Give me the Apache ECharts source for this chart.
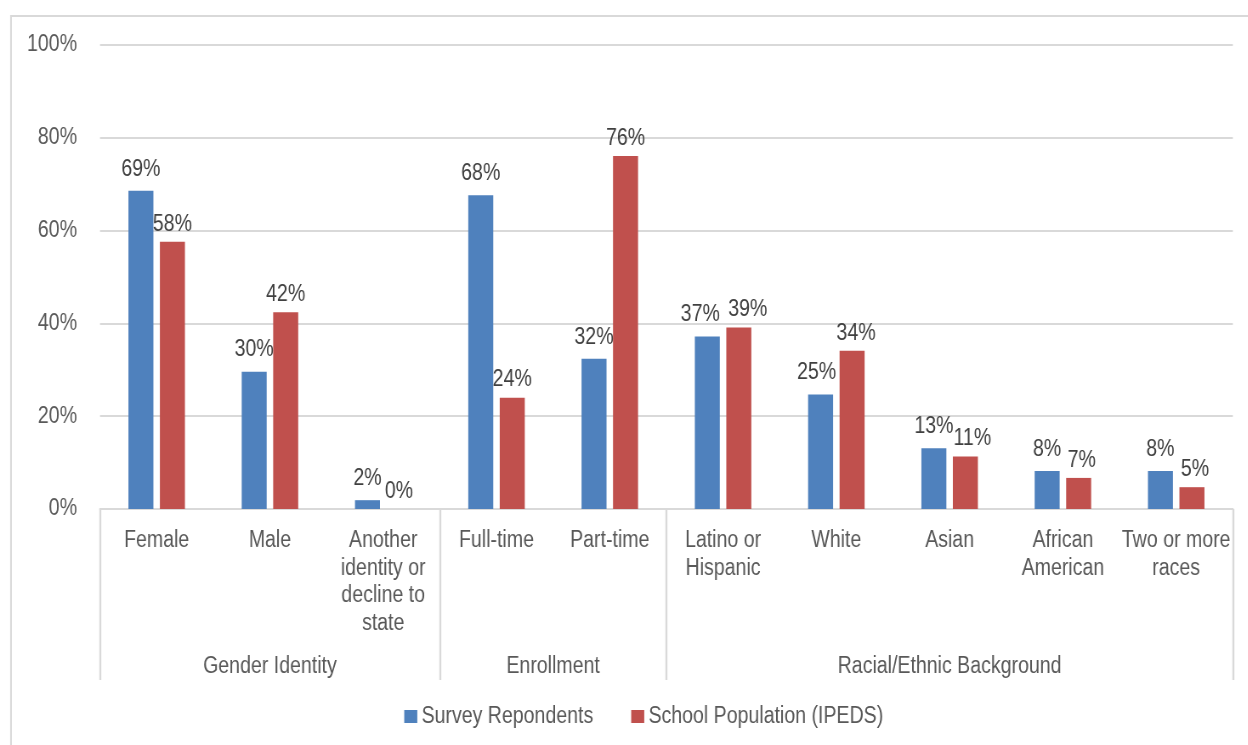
<!DOCTYPE html>
<html>
<head>
<meta charset="utf-8">
<script src="https://cdn.jsdelivr.net/npm/echarts@6/dist/echarts.min.js"></script>
<style>
html,body{margin:0;padding:0;background:#fff;overflow:hidden;}
#wrap{width:1248px;height:745px;overflow:hidden;position:relative;}
#chart{width:1468px;height:745px;transform:scaleX(0.85);transform-origin:0 0;}
</style>
</head>
<body>
<div id="wrap"><div id="chart"></div></div>
<script>
// ---- data ----
const categories = ['Female', 'Male', 'Another\nidentity or\ndecline to\nstate', 'Full-time', 'Part-time',
  'Latino or\nHispanic', 'White', 'Asian', 'African\nAmerican', 'Two or more\nraces'];
const groupNames = ['Gender Identity', 'Enrollment', 'Racial/Ethnic Background'];
const groupSizes = [3, 2, 5];
const seriesNames = ['Survey Repondents', 'School Population (IPEDS)'];
const surveyValues = [68.6, 29.6, 1.9, 67.6, 32.4, 37.2, 24.7, 13.1, 8.2, 8.2];
const ipedsValues = [57.6, 42.4, 0, 24.0, 76.1, 39.1, 34.1, 11.3, 6.7, 4.7];
const yTicks = [0, 20, 40, 60, 80, 100];

// ---- build group axis (half-category resolution, boundaryGap false) ----
const total = groupSizes.reduce((a, b) => a + b, 0);
const slots = total * 2 + 1;
const groupData = new Array(slots).fill('');
const boundaryIdx = [0];
let acc = 0;
groupSizes.forEach((s, i) => {
  groupData[acc * 2 + s] = groupNames[i];
  acc += s;
  boundaryIdx.push(acc * 2);
});

const K = 0.85; // horizontal compression of the whole drawing (narrow lettering)
const X = v => v / K;
const FONT = "'Liberation Sans', Arial, sans-serif";
const FS = 23;
const chart = echarts.init(document.getElementById('chart'));
const fmt = p => Math.round(p.value) + '%';

// label nudges (screen px) that keep neighbouring labels apart, as in the original
const nudgeSurvey = { 5: -7, 6: -4 };
const nudgeIpeds = { 5: 9, 6: 4, 7: 7, 8: 3, 9: 3 };
const withNudge = (vals, nudge) => vals.map((v, i) =>
  nudge[i] ? { value: v, label: { offset: [X(nudge[i]), 0] } } : v);

chart.setOption({
  animation: false,
  backgroundColor: '#fff',
  textStyle: { fontFamily: FONT },
  graphic: [{
    type: 'rect',
    shape: { x: X(11), y: 16, width: X(1300), height: 760 },
    style: { fill: 'none', stroke: '#d9d9d9', lineWidth: 2 },
    silent: true
  }],
  grid: { left: X(100), right: X(15), top: 45, bottom: 236, containLabel: false },
  legend: {
    bottom: 12,
    left: X(400),
    itemWidth: X(13),
    itemHeight: 13,
    itemGap: X(38),
    icon: 'rect',
    textStyle: { fontFamily: FONT, fontSize: FS, color: '#595959' },
    data: seriesNames
  },
  xAxis: [{
    type: 'category',
    data: categories,
    position: 'bottom',
    axisLine: { show: true, lineStyle: { color: '#d9d9d9', width: 2 } },
    axisTick: { show: false },
    axisLabel: {
      interval: 0,
      margin: 18,
      fontFamily: FONT,
      fontSize: FS,
      lineHeight: 27.5,
      color: '#595959',
      align: 'center'
    }
  }, {
    type: 'category',
    data: groupData,
    position: 'bottom',
    boundaryGap: false,
    axisLine: { show: false },
    axisTick: {
      show: true,
      length: 171,
      interval: (idx) => boundaryIdx.indexOf(idx) >= 0,
      lineStyle: { color: '#d9d9d9', width: X(2) }
    },
    axisLabel: {
      interval: 0,
      margin: 146,
      fontFamily: FONT,
      fontSize: FS,
      color: '#595959'
    }
  }],
  yAxis: {
    type: 'value',
    min: yTicks[0],
    max: yTicks[yTicks.length - 1],
    interval: yTicks[1] - yTicks[0],
    axisLine: { show: false },
    axisTick: { show: false },
    splitLine: { lineStyle: { color: '#d9d9d9', width: 2 } },
    axisLabel: {
      margin: X(23),
      fontFamily: FONT,
      fontSize: FS,
      color: '#595959',
      formatter: '{value}%'
    }
  },
  series: [{
    name: seriesNames[0],
    type: 'bar',
    data: withNudge(surveyValues, nudgeSurvey),
    barWidth: X(25),
    barGap: '26%',
    itemStyle: { color: '#4F81BD' },
    label: { show: true, position: 'top', distance: 10, formatter: fmt, fontFamily: FONT, fontSize: FS, color: '#404040' }
  }, {
    name: seriesNames[1],
    type: 'bar',
    data: withNudge(ipedsValues, nudgeIpeds),
    barWidth: X(25),
    itemStyle: { color: '#C0504D' },
    label: { show: true, position: 'top', distance: 6, formatter: fmt, fontFamily: FONT, fontSize: FS, color: '#404040' }
  }]
});
</script>
</body>
</html>
